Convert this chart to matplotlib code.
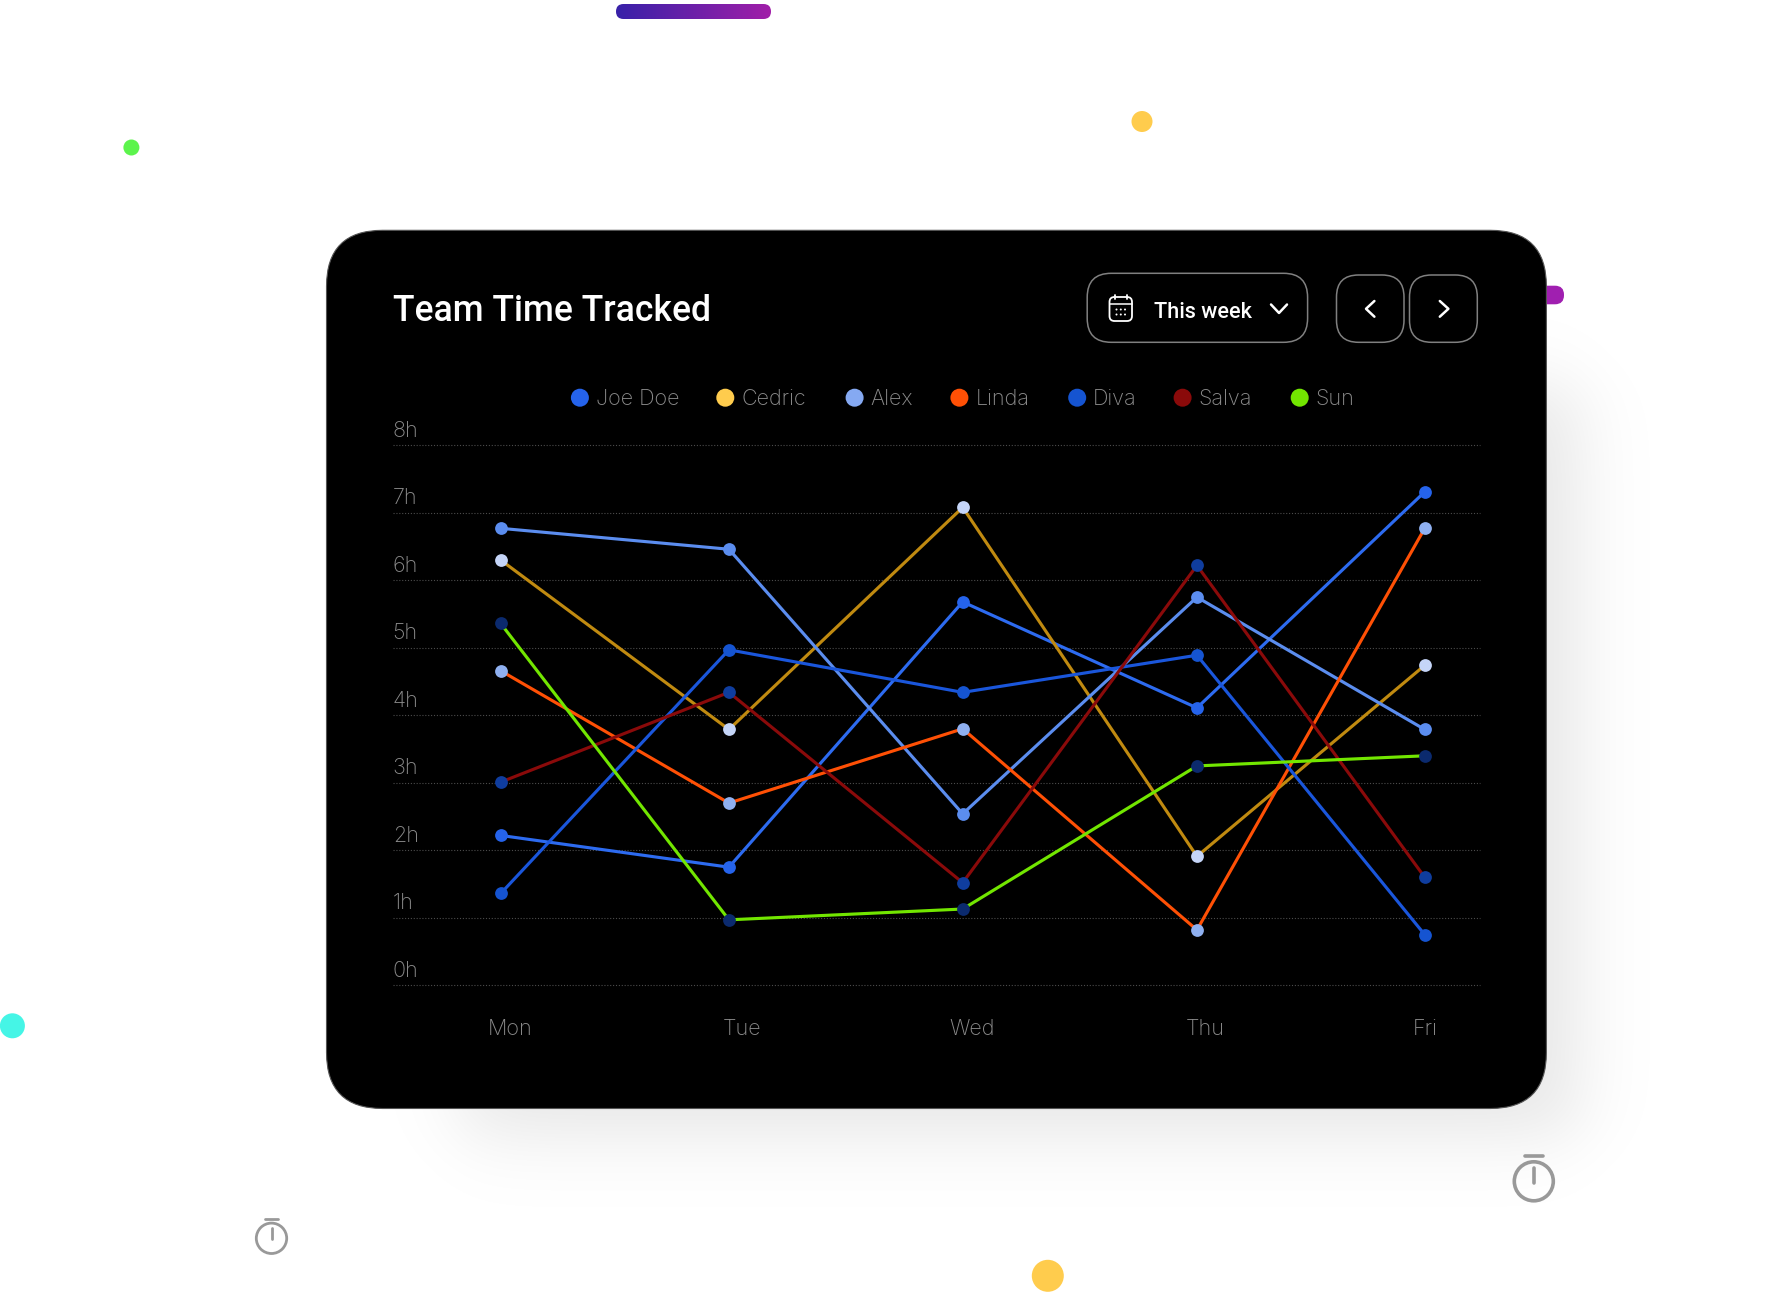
#!/usr/bin/env python3
"""Team Time Tracked card: weekly hours per team member on a black panel."""

import matplotlib
matplotlib.use('Agg')
import matplotlib.pyplot as plt
import numpy as np
from matplotlib.patches import Circle, FancyBboxPatch
from matplotlib.transforms import ScaledTranslation

W, H = 1791, 1300
FONT = ['Inter', 'DejaVu Sans']
HEAD_FONT = ['Roboto', 'DejaVu Sans']

DAYS = ['Mon', 'Tue', 'Wed', 'Thu', 'Fri']
HOUR_LABELS = ['0h', '1h', '2h', '3h', '4h', '5h', '6h', '7h', '8h']
NAMES = ['Joe Doe', 'Cedric', 'Alex', 'Linda', 'Diva', 'Salva', 'Sun']

joe_doe = [2.22, 1.75, 5.68, 4.11, 7.31]
cedric = [6.30, 3.79, 7.08, 1.91, 4.74]
alex = [6.77, 6.46, 2.54, 5.75, 3.79]
linda = [4.66, 2.70, 3.80, 0.82, 6.77]
diva = [1.36, 4.97, 4.34, 4.89, 0.75]
salva = [3.01, 4.34, 1.52, 6.22, 1.60]
sun = [5.36, 0.97, 1.13, 3.25, 3.40]
SERIES = [joe_doe, cedric, alex, linda, diva, salva, sun]

# the day columns and their labels are not quite evenly spaced in the design
DAY_POS = [0, 0.988, 2.0, 3.014, 4.0]
TICK_POS = [0.04, 1.045, 2.04, 3.049, 4.003]

LEGEND_COLORS = ['#2563EB', '#FFCC4D', '#85A9F2', '#FF5005', '#1554D1', '#8A0A0A', '#72E600']
LINE_COLORS = ['#2D6BF0', '#C08A10', '#5B8DEF', '#FF5005', '#1A56DB', '#8A0A0A', '#72E600']
DOT_COLORS = ['#2563EB', '#C5D5F8', '#5B8DEF', '#8FB0F0', '#1554D1', '#0F3D9E', '#0B2A6E']
LEGEND_DOT_X = [579.9, 725.3, 854.6, 959.4, 1077.2, 1182.6, 1299.7]
LEGEND_TEXT_X = [595.5, 741.4, 870.3, 975.4, 1093, 1198.8, 1315.8]

GRAY = '#8c8c8c'
CARD = (326.5, 230.3, 1546.4, 1108.5)
PLOT = (392.7, 445.3, 1480.4, 985.3)

fig = plt.figure(figsize=(W / 100, H / 100), dpi=100, facecolor='white')

# ── page layer, in pixel coordinates ──
bg = fig.add_axes([0, 0, 1, 1])
bg.set_axis_off()


def rounded(x0, y0, x1, y1, r, **kw):
    p = FancyBboxPatch((x0, y0), x1 - x0, y1 - y0,
                       boxstyle=f'round,pad=0,rounding_size={r}', **kw)
    bg.add_patch(p)
    return p


def stopwatch(cx, cy, r, lw, bar_w, bar_y, hand_top, hand_bottom):
    bg.add_patch(Circle((cx, cy), r, fill=False, ec='#999999', lw=lw, zorder=2))
    bg.plot([cx - bar_w / 2, cx + bar_w / 2], [bar_y, bar_y], color='#999999',
            lw=lw, solid_capstyle='round', zorder=2)
    bg.plot([cx, cx], [hand_top, hand_bottom], color='#999999',
            lw=lw, solid_capstyle='round', zorder=2)


# soft drop shadow, offset down and to the right of the card
yy, xx = np.mgrid[0:H, 0:W]
edge = lambda d: 0.5 * (1 + np.tanh(d / 45))
alpha = 0.1 * edge(xx - 460) * edge(1578 - xx) * edge(yy - 385) * edge(1135 - yy)
shadow = np.zeros((H, W, 4))
shadow[..., 3] = alpha
bg.imshow(shadow, extent=(0, W, H, 0), aspect='auto', zorder=0, interpolation='bilinear')

# gradient pill at the top edge
grad = np.linspace(0, 1, 256).reshape(1, -1, 1)
bar_rgb = np.array([0.22, 0.13, 0.66]) * (1 - grad) + np.array([0.63, 0.12, 0.66]) * grad
bar_img = bg.imshow(bar_rgb, extent=(616, 771, 19, 4), aspect='auto', zorder=1)
bar_clip = rounded(616, 4, 771, 19, 7.5, fc='none', ec='none', zorder=1)
bar_img.set_clip_path(bar_clip)

rounded(1500, 285.7, 1564, 304.3, 9, fc='#A01FB0', ec='none', zorder=1)

bg.add_patch(Circle((131.4, 147.5), 8, fc='#5CF44C', ec='none', zorder=1))
bg.add_patch(Circle((1142, 121.5), 10.5, fc='#FFCC4D', ec='none', zorder=1))
bg.add_patch(Circle((12.4, 1025.8), 12.5, fc='#45F5E6', ec='none', zorder=1))
bg.add_patch(Circle((1047.8, 1275.8), 16, fc='#FFCC4D', ec='none', zorder=1))
stopwatch(271.5, 1238.3, 15.2, 2.0, 13, 1219.3, 1228, 1239.3)
stopwatch(1533.8, 1181.3, 19.5, 2.6, 17.7, 1156.3, 1168.3, 1182.7)

# card
rounded(CARD[0], CARD[1], CARD[2], CARD[3], 56, fc='black', ec='#555555', lw=0.8, zorder=3)

bg.text(392.7, 321, 'Team Time Tracked', color='white', fontsize=25.6, fontweight='medium',
        family=HEAD_FONT, va='baseline', ha='left', zorder=5)

# header controls
for box, r in [((1087.2, 273.3, 1307.6, 342.3), 24), ((1336.5, 275, 1404, 342.3), 22),
               ((1409.5, 275, 1477.3, 342.3), 22)]:
    rounded(*box, r, fc='none', ec='#808080', lw=1.1, zorder=5)

rounded(1109.5, 297, 1132, 321, 5, fc='none', ec='white', lw=1.3, zorder=5)
bg.plot([1109.5, 1132], [304, 304], color='white', lw=1.1, zorder=5)
for x in (1115, 1126.5):
    bg.plot([x, x], [294.5, 299], color='white', lw=1.3, solid_capstyle='round', zorder=5)
for x in (1116.5, 1120.8, 1125):
    for y in (309.5, 314.5):
        bg.add_patch(Circle((x, y), 1, fc='white', ec='none', zorder=5))

bg.text(1154.3, 318.3, 'This week', color='white', fontsize=15.6, fontweight='medium',
        family=HEAD_FONT, va='baseline', ha='left', zorder=5)

chevrons = [([1271, 1279, 1287], [304.5, 313, 304.5]),
            ([1374.4, 1366, 1374.4], [301, 308.8, 316.7]),
            ([1439.8, 1448.4, 1439.8], [301, 308.8, 316.7])]
for xs, ys in chevrons:
    bg.plot(xs, ys, color='white', lw=1.8, solid_capstyle='round', solid_joinstyle='round', zorder=5)

# legend
for name, color, dx, tx in zip(NAMES, LEGEND_COLORS, LEGEND_DOT_X, LEGEND_TEXT_X):
    bg.add_patch(Circle((dx, 397.7), 9, fc=color, ec='none', zorder=5))
    bg.text(tx, 405.3, name, color=GRAY, fontsize=15.5, fontweight='light', family=FONT,
            va='baseline', ha='left', zorder=5)

bg.set_xlim(0, W)
bg.set_ylim(H, 0)

# ── chart layer ──
ax = fig.add_axes([PLOT[0] / W, 1 - PLOT[3] / H, (PLOT[2] - PLOT[0]) / W, (PLOT[3] - PLOT[1]) / H])
ax.patch.set_alpha(0)
for s in ax.spines.values():
    s.set_visible(False)

for vals, lc in zip(SERIES, LINE_COLORS):
    ax.plot(DAY_POS, vals, color=lc, lw=2.25, zorder=3, solid_capstyle='round')
for vals, dc in zip(SERIES, DOT_COLORS):
    ax.plot(DAY_POS, vals, linestyle='none', marker='o', ms=9.2, mfc=dc, mec='none', zorder=4)

ax.set_xlim(-0.4675, 4.241)
ax.set_ylim(0, 8)
ax.set_xticks(TICK_POS, DAYS)
ax.set_yticks(range(9), HOUR_LABELS)
ax.grid(True, axis='y', color='#4c4c4c', lw=0.8, linestyle=(0, (1, 1.6)), zorder=1)
for gl in ax.get_ygridlines():
    gl.set_clip_on(False)
ax.tick_params(length=0, labelcolor=GRAY, labelsize=15.5)
ax.tick_params(axis='x', pad=24)
ax.tick_params(axis='y', pad=0)
for lab in ax.get_xticklabels() + ax.get_yticklabels():
    lab.set_family(FONT)
    lab.set_fontweight('light')
offset = ScaledTranslation(0, 8.6 / 100, fig.dpi_scale_trans)
for lab in ax.get_yticklabels():
    lab.set_ha('left')
    lab.set_va('baseline')
    lab.set_transform(lab.get_transform() + offset)

fig.savefig('out.png', dpi=100)
plt.close()
